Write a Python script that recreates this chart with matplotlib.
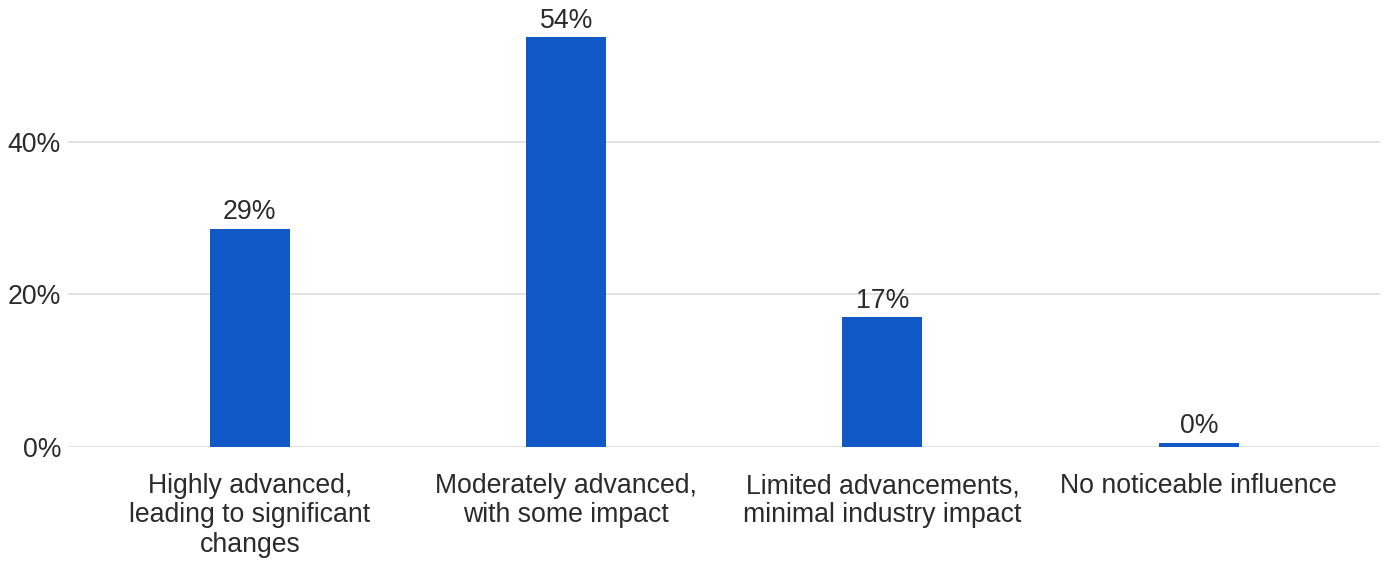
import matplotlib
matplotlib.use("Agg")
import matplotlib.pyplot as plt

categories = [
    "Highly advanced,\nleading to significant\nchanges",
    "Moderately advanced,\nwith some impact",
    "Limited advancements,\nminimal industry impact",
    "No noticeable influence",
]
values = [28.6, 53.8, 17.0, 0.0]
labels = ["29%", "54%", "17%", "0%"]
yticks = [0, 20, 40]
ytick_labels = ["0%", "20%", "40%"]

BAR = "#1259c8"
TXT = "#2b2b2b"
GRID = "#e0e0e0"
FS = 19.2

plt.rcParams['font.family'] = ['Liberation Sans', 'DejaVu Sans']

W, H = 1387, 561
fig = plt.figure(figsize=(W / 100, H / 100), dpi=100)
left, right = 68 / W, 1380 / W
bottom, top = (H - 446.7) / H, (H - 5) / H
ax = fig.add_axes([left, bottom, right - left, top - bottom])

x = list(range(len(categories)))
heights = [max(v, 0.5) for v in values]
ax.bar(x, heights, width=0.253, color=BAR, zorder=3)
for xi, h, lab in zip(x, heights, labels):
    ax.annotate(lab, (xi, h), xytext=(0, 2.5), textcoords="offset points",
                ha="center", va="bottom", fontsize=FS, color=TXT)

ax.set_xlim(-0.575, 3.573)
ax.set_ylim(0, 58.0)
ax.set_yticks(yticks)
ax.set_yticklabels(ytick_labels)
ax.set_xticks(x)
ax.set_xticklabels(categories, fontsize=FS, color=TXT, va="top", ha="center",
                   linespacing=1.17)
ax.tick_params(axis="y", length=0, pad=5, labelsize=FS, labelcolor=TXT)
ax.tick_params(axis="x", length=0, pad=19)
ax.yaxis.grid(True, color=GRID, linewidth=1.3, zorder=0)
ax.set_axisbelow(True)
for s in ax.spines.values():
    s.set_visible(False)

fig.savefig("out.png", dpi=100, facecolor="white")
